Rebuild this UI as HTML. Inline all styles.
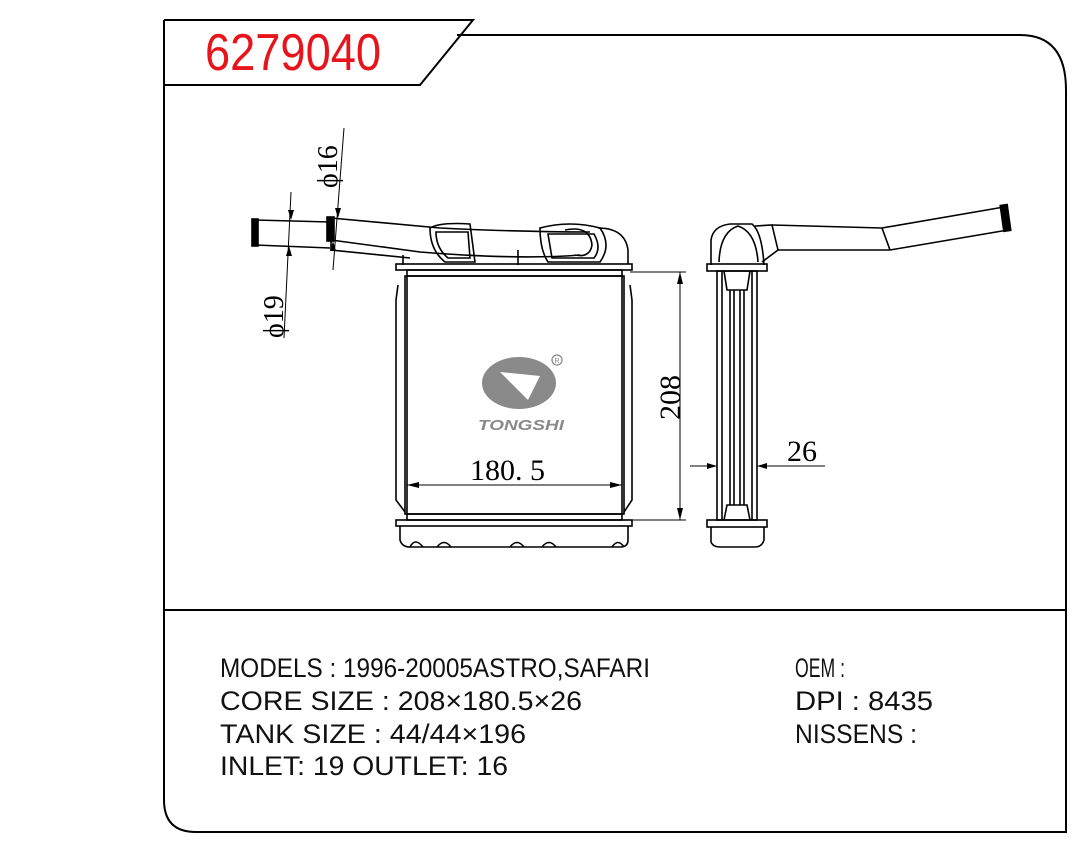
<!DOCTYPE html>
<html><head><meta charset="utf-8"><style>
html,body{margin:0;padding:0;background:#fff;}
svg{display:block;}
</style></head><body>
<svg width="1071" height="844" viewBox="0 0 1071 844" xmlns="http://www.w3.org/2000/svg">
<g fill="none" stroke="#000" stroke-width="2">
<path d="M164,20 L473,20 L420,85 L164,85"/>
<path d="M164,20 L164,800 Q164,832 196,832 L1066,832 L1066,90 Q1066,35 1020,35 L457,35"/>
<line x1="164" y1="610" x2="1066" y2="610"/>
</g>
<text x="205" y="70" font-family="Liberation Sans, sans-serif" font-size="52" fill="#e8141c" textLength="176" lengthAdjust="spacingAndGlyphs">6279040</text>

<g fill="none" stroke="#000" stroke-width="1.6">
<path d="M255,220 L330,222 M255,245 L330,248"/>
<rect x="252" y="219" width="6" height="27" fill="#000"/>
<path d="M331,218 L440,228 Q520,232 590,232 M331,240 L420,252 Q520,260 580,255"/>
<rect x="327" y="217" width="7" height="24" fill="#000"/>
<path d="M331,240 L331,250 L410,258"/>
<path d="M430,228 Q440,222 470,224 L475,262 L445,262 Q430,250 430,228 Z"/>
<path d="M436,232 L468,232 L470,258 L448,258 Q436,248 436,232 Z"/>
<path d="M540,228 Q570,220 600,228 Q612,245 600,262 L548,262 Q540,250 540,228 Z"/>
<path d="M548,234 L594,234 Q602,248 594,258 L552,258 Z"/>
<path d="M565,230 Q590,225 592,245 Q590,258 575,255"/>
<path d="M598,228 Q625,228 628,250 L628,264"/>
<line x1="518" y1="250" x2="518" y2="265"/>
<line x1="403" y1="255" x2="403" y2="265"/>
<rect x="396" y="264" width="236" height="6"/>
<rect x="407" y="270" width="215" height="6"/>
<rect x="396" y="520" width="236" height="6"/>
<rect x="407" y="514" width="215" height="6"/>
<rect x="405" y="276" width="219" height="238"/>
<path d="M407,276 L407,514 M622,276 L622,514"/>
<path d="M398,285 L396,300 L396,500 L405,512 M630,285 L632,300 L632,500 L624,512"/>
<path d="M400,526 L400,540 Q402,547 410,547 L620,547 Q628,547 628,540 L628,526"/>
<path d="M410,547 Q415,537 423,547 M437,547 Q444,538 451,547 M510,547 Q517,538 524,547 M542,547 Q549,538 556,547 M612,547 Q618,538 624,547"/>
<line x1="630" y1="272" x2="686" y2="272" stroke-width="1"/>
<line x1="630" y1="520" x2="686" y2="520" stroke-width="1"/>
<line x1="680" y1="272" x2="680" y2="520" stroke-width="1"/>
<line x1="407" y1="485" x2="622" y2="485" stroke-width="1"/>
<line x1="344" y1="128" x2="333" y2="270" stroke-width="1"/>
<line x1="291" y1="192" x2="284" y2="338" stroke-width="1"/>
</g>
<g fill="#000">
<path d="M680,272 l-3,12 l6,0 Z M680,520 l-3,-12 l6,0 Z"/>
<path d="M407,485 l12,-3 l0,6 Z M622,485 l-12,-3 l0,6 Z"/>
<path d="M338,218 l-3,-10 l6,0 Z M333,241 l-3,10 l6,0 Z M291,220 l-3,-10 l6,0 Z M289,246 l-3,10 l6,0 Z"/>
</g>
<text x="470" y="480" font-family="Liberation Serif, serif" font-size="30" fill="#000">180. 5</text>
<text transform="translate(680,420) rotate(-90)" font-family="Liberation Serif, serif" font-size="30" fill="#000">208</text>
<text transform="translate(337,188) rotate(-90)" font-family="Liberation Serif, serif" font-size="28" fill="#000">ϕ16</text>
<text transform="translate(283,338) rotate(-90)" font-family="Liberation Serif, serif" font-size="28" fill="#000">ϕ19</text>

<ellipse cx="519" cy="383" rx="37" ry="26" fill="#8a8a8a"/>
<path d="M500,372 L540,376 L528,400 Z" fill="#fff"/>
<text x="478" y="430" font-family="Liberation Sans, sans-serif" font-size="15" font-weight="bold" font-style="italic" fill="#8a8a8a" textLength="86" lengthAdjust="spacingAndGlyphs">TONGSHI</text>
<circle cx="557" cy="360" r="5" fill="none" stroke="#8a8a8a" stroke-width="1.3"/>
<text x="554.5" y="363" font-family="Liberation Sans, sans-serif" font-size="7" fill="#8a8a8a">R</text>

<g fill="none" stroke="#000" stroke-width="1.6">
<path d="M711,265 L711,240 Q713,226 730,224 L752,224 Q762,232 764,265"/>
<path d="M719,262 Q720,232 738,226 Q756,232 758,262"/>
<path d="M755,226 L772,225 L778,250 L762,262"/>
<path d="M772,225 L882,228 L1004,207 M778,250 L890,250 L1008,230"/>
<path d="M882,228 L890,250"/>
<rect x="1002" y="205" width="7" height="26" fill="#000" transform="rotate(-8 1005 218)"/>
<rect x="707" y="264" width="60" height="7"/>
<rect x="707" y="520" width="60" height="7"/>
<rect x="717" y="271" width="40" height="249"/>
<path d="M722,271 L722,520 M752,271 L752,520 M730,290 L730,505 M744,290 L744,505 M734,290 L734,505 M740,290 L740,505"/>
<path d="M724,271 L727,290 L747,290 L750,271 M724,520 L727,505 L747,505 L750,520"/>
<path d="M711,527 L711,542 Q713,547 720,547 L755,547 Q762,547 764,540 L764,527"/>
<line x1="690" y1="466" x2="717" y2="466" stroke-width="1"/>
<line x1="757" y1="466" x2="825" y2="466" stroke-width="1"/>
</g>
<path d="M717,466 l-10,-3 l0,6 Z M757,466 l10,-3 l0,6 Z" fill="#000"/>
<text x="787" y="461" font-family="Liberation Serif, serif" font-size="30" fill="#000">26</text>

<g font-family="Liberation Sans, sans-serif" font-size="27" fill="#111">
<text x="220" y="677" textLength="430" lengthAdjust="spacingAndGlyphs">MODELS : 1996-20005ASTRO,SAFARI</text>
<text x="220" y="710" textLength="362" lengthAdjust="spacingAndGlyphs">CORE SIZE : 208×180.5×26</text>
<text x="220" y="743" textLength="306" lengthAdjust="spacingAndGlyphs">TANK SIZE : 44/44×196</text>
<text x="220" y="775" textLength="288" lengthAdjust="spacingAndGlyphs">INLET: 19  OUTLET: 16</text>
<text x="795" y="677" textLength="50" lengthAdjust="spacingAndGlyphs">OEM :</text>
<text x="795" y="710" textLength="138" lengthAdjust="spacingAndGlyphs">DPI : 8435</text>
<text x="795" y="743" textLength="122" lengthAdjust="spacingAndGlyphs">NISSENS :</text>
</g>
</svg>
</body></html>
